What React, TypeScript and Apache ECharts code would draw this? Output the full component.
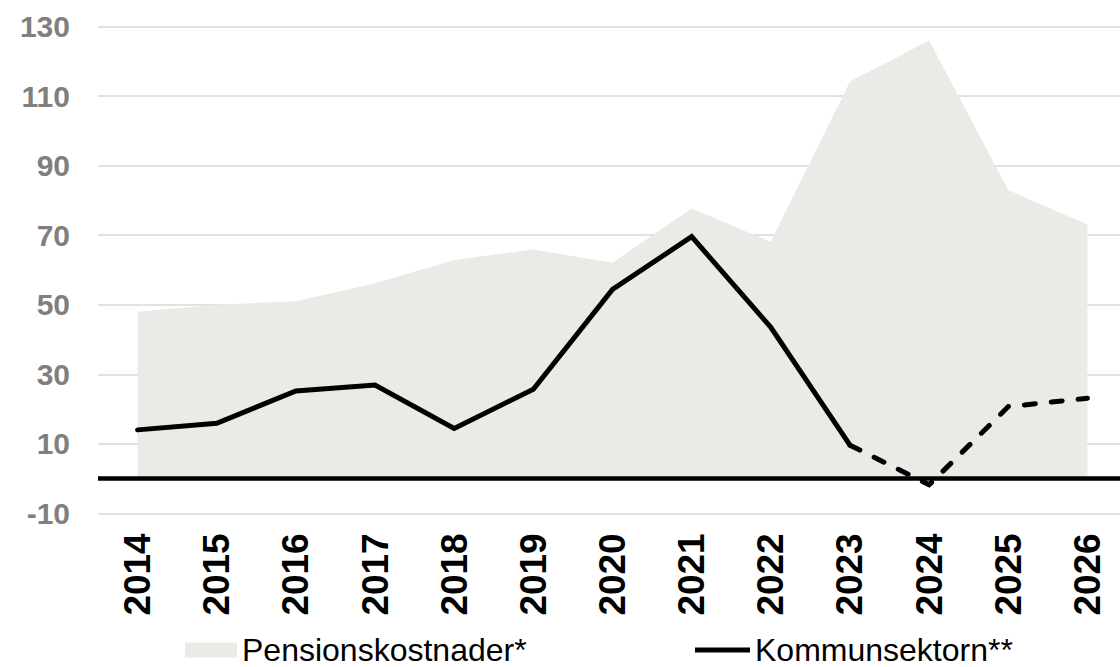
import React, { useEffect, useRef } from "react";
import * as echarts from "echarts";

const years = ["2014", "2015", "2016", "2017", "2018", "2019", "2020", "2021", "2022", "2023", "2024", "2025", "2026"];
const pensionCosts = [48, 50, 51, 56.2, 62.9, 65.9, 62.1, 77.7, 68.1, 114.2, 126, 83, 73.1];
const municipalSolid = [14, 15.9, 25.2, 26.9, 14.4, 25.7, 54.4, 69.6, 43.5, 9.6, null, null, null];
const municipalForecast = [null, null, null, null, null, null, null, null, null, 9.6, -1.8, 20.7, 23.1];
const yTicks = { min: -10, max: 130, interval: 20 };

const FONT = "'Liberation Sans', Arial, Helvetica, sans-serif";

export default function App() {
  const ref = useRef<HTMLDivElement>(null);
  useEffect(() => {
    if (!ref.current) return;
    const chart = echarts.init(ref.current, null, { renderer: "svg" });
    chart.setOption({
      animation: false,
      backgroundColor: "#ffffff",
      grid: {
        left: 98,
        right: -7,
        top: 26.7,
        bottom: 153.7,
        containLabel: false,
        outerBoundsMode: "none",
      },
      legend: [
        {
          data: [{ name: "Pensionskostnader*", icon: "rect" }],
          left: 180,
          top: 629,
          itemWidth: 52,
          itemHeight: 15,
          textStyle: { fontSize: 32, color: "#000000", fontFamily: FONT },
        },
        {
          data: [{ name: "Kommunsektorn**", icon: "rect" }],
          left: 690,
          top: 629,
          itemWidth: 55,
          itemHeight: 5,
          textStyle: { fontSize: 32, color: "#000000", fontFamily: FONT },
        },
      ],
      xAxis: {
        type: "category",
        data: years,
        boundaryGap: true,
        axisLine: { show: false, onZero: false },
        axisTick: { show: false },
        axisLabel: {
          rotate: 90,
          fontSize: 37,
          fontWeight: "bold",
          color: "#000000",
          fontFamily: FONT,
          margin: 20,
          interval: 0,
        },
        splitLine: { show: false },
      },
      yAxis: {
        type: "value",
        min: yTicks.min,
        max: yTicks.max,
        interval: yTicks.interval,
        axisLine: { show: false },
        axisTick: { show: false },
        axisLabel: {
          fontSize: 30,
          fontWeight: "bold",
          color: "#7f7f7f",
          fontFamily: FONT,
          margin: 28,
        },
        splitLine: { show: true, lineStyle: { color: "#d9d9d9", width: 1.5 } },
      },
      series: [
        {
          name: "Pensionskostnader*",
          type: "line",
          data: pensionCosts,
          symbol: "none",
          showSymbol: false,
          color: "#EBEAE6",
          lineStyle: { width: 0, color: "#EBEAE6" },
          areaStyle: { color: "#EBEAE6", opacity: 1 },
          z: 1,
          markLine: {
            silent: true,
            symbol: ["none", "none"],
            label: { show: false },
            lineStyle: { color: "#000000", width: 4.5, type: "solid" },
            data: [{ yAxis: 0 }],
            z: 2,
          },
        },
        {
          name: "Kommunsektorn**",
          type: "line",
          data: municipalSolid,
          symbol: "none",
          showSymbol: false,
          color: "#000000",
          lineStyle: { width: 5, color: "#000000", cap: "round", join: "miter" },
          z: 3,
        },
        {
          name: "Kommunsektorn prognos",
          type: "line",
          data: municipalForecast,
          symbol: "none",
          showSymbol: false,
          color: "#000000",
          lineStyle: {
            width: 5,
            color: "#000000",
            type: [11, 16],
            cap: "round",
            join: "miter",
          },
          z: 3,
        },
      ],
    });
    return () => chart.dispose();
  }, []);
  return (
    <div
      ref={ref}
      style={{ position: "fixed", left: 0, top: 0, width: 1120, height: 667 }}
    />
  );
}
